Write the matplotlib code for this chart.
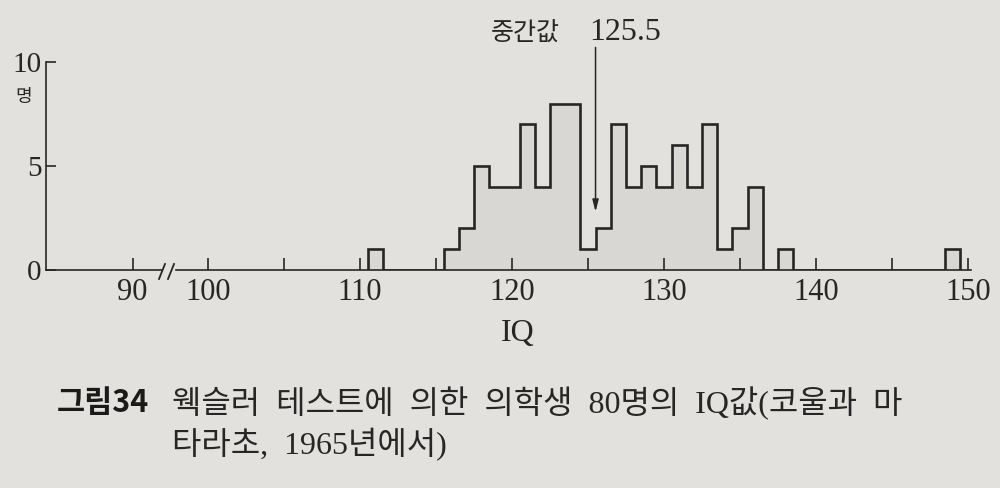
import matplotlib
matplotlib.use('Agg')
import matplotlib.pyplot as plt
from matplotlib.lines import Line2D
import numpy as np

# IQ scores (bin centres) and number of students
iq = [111, 116, 117, 118, 119, 120, 121, 122, 123, 124, 125, 126,
      127, 128, 129, 130, 131, 132, 133, 134, 135, 136, 138, 149]
counts = [1, 1, 2, 5, 4, 4, 7, 4, 8, 8, 1, 2,
          7, 4, 5, 4, 6, 4, 7, 1, 2, 4, 1, 1]
median = 125.5

yticks = [0, 5, 10]
xticks_left = [90]
xticks_right = [100, 110, 120, 130, 140, 150]
xminor_right = [105, 115, 125, 135, 145]

title = '그림34'
caption1 = '웩슬러  테스트에  의한  의학생  80명의  IQ값(코울과  마'
caption2 = '타라초,  1965년에서)'

bg = '#e2e1de'
ink = '#262626'
fill = '#d8d7d4'
serif = ['Liberation Serif', 'Noto Sans CJK KR']
kor = ['Noto Sans CJK KR', 'DejaVu Sans']

# full step array, one bin per IQ point
edges = np.arange(min(iq) - 0.5, max(iq) + 1.5, 1)
values = np.zeros(len(edges) - 1)
for v, c in zip(iq, counts):
    values[v - min(iq)] = c

fig = plt.figure(figsize=(10, 4.88), dpi=100)
fig.patch.set_facecolor(bg)

bottom, height = 1 - 270 / 488, 208 / 488
axl = fig.add_axes([0.046, bottom, 0.1155, height])
axr = fig.add_axes([0.176, bottom, 0.795, height])

for ax in (axl, axr):
    ax.set_facecolor('none')
    ax.set_ylim(0, 10)
    ax.spines['top'].set_visible(False)
    ax.spines['right'].set_visible(False)
    for s in ax.spines.values():
        s.set_linewidth(1.2)
        s.set_color(ink)
axr.spines['left'].set_visible(False)

axl.set_xlim(84.3, 91.9)
axr.set_xlim(97.9, 150.2)

# histogram
axr.stairs(values, edges, fill=True, color=fill, lw=0)
axr.stairs(values, edges, fill=False, color=ink, lw=1.9)

# ticks
axl.set_yticks(yticks)
axl.set_xticks(xticks_left)
axr.set_yticks([])
axr.set_xticks(xticks_right)
axr.set_xticks(xminor_right, minor=True)
for ax in (axl, axr):
    ax.tick_params(axis='both', which='both', direction='in', length=9,
                   width=1.2, color=ink, labelcolor=ink, labelsize=22, pad=6)
    for lab in ax.get_xticklabels() + ax.get_yticklabels():
        lab.set_family(serif)
axl.tick_params(axis='y', length=7, pad=3, labelsize=21)

# axis break marks
def fpx(x, y):
    return x / 1000, 1 - y / 488

for x0 in (159, 168):
    (xa, ya), (xb, yb) = fpx(x0, 279), fpx(x0 + 6, 264)
    fig.add_artist(Line2D([xa, xb], [ya, yb], color=ink, lw=1.3))

# median arrow and label
axr.annotate('', xy=(median, 2.8), xytext=(median, 10.7),
             arrowprops=dict(arrowstyle='-|>,head_width=0.18,head_length=0.7',
                             color=ink, lw=1.1, shrinkA=0, shrinkB=0),
             annotation_clip=False)
axr.text(median - 2.35, 11.4, '중간값', ha='right', va='center', fontsize=18,
         family=kor, color=ink, clip_on=False)
axr.text(median - 0.4, 11.4, f'{median}', ha='left', va='center', fontsize=23,
         family=serif, color=ink, clip_on=False)

# axis labels
fig.text(0.024, 1 - 97 / 488, '명', ha='center', va='center', fontsize=13,
         family=kor, color=ink)
fig.text(0.518, 1 - 333 / 488, 'IQ', ha='center', va='center', fontsize=23,
         family=serif, color=ink)

# caption
fig.text(0.057, 1 - 403 / 488, title, ha='left', va='center', fontsize=22,
         fontweight='bold', family=kor, color='#1a1a1a')
fig.text(0.172, 1 - 403 / 488, caption1, ha='left', va='center', fontsize=23,
         family=serif, color=ink)
fig.text(0.172, 1 - 445 / 488, caption2, ha='left', va='center', fontsize=23,
         family=serif, color=ink)

fig.savefig('out.png', dpi=100, facecolor=bg)
